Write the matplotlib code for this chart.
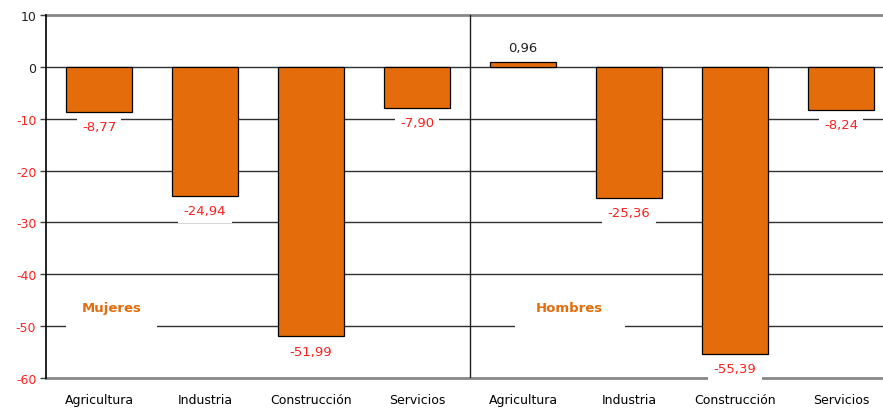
import matplotlib.pyplot as plt
from matplotlib.patches import Rectangle

categories = ['Agricultura', 'Industria', 'Construcción', 'Servicios',
              'Agricultura', 'Industria', 'Construcción', 'Servicios']
values = [-8.77, -24.94, -51.99, -7.90, 0.96, -25.36, -55.39, -8.24]
groups = ['Mujeres', 'Hombres']
group_x = [0.12, 4.44]
group_w = [0.86, 1.04]
yticks = [10, 0, -10, -20, -30, -40, -50, -60]

orange = '#E46C0A'
plt.rcParams['font.family'] = ['DejaVu Sans']

fig = plt.figure(figsize=(8.83, 4.10), dpi=100)
ax = fig.add_axes([46 / 883, 31 / 410, 1 - 46 / 883, 363 / 410])

x = list(range(len(categories)))
ax.bar(x, values, width=0.62, color=orange, edgecolor='black', linewidth=0.9, zorder=3)

ax.set_ylim(-60, 10)
ax.set_xlim(-0.5, 7.396)
ax.set_yticks(yticks)
ax.set_yticklabels([str(t) for t in yticks], fontsize=9)
for lbl, t in zip(ax.get_yticklabels(), yticks):
    lbl.set_color('#FF2020' if t < 0 else '#202020')
ax.set_xticks(x)
ax.set_xticklabels(categories, fontsize=9)
ax.tick_params(axis='x', length=0, pad=11)
ax.tick_params(axis='y', length=4, width=1, color='#404040', pad=3)

for t in yticks:
    edge = t in (10, -60)
    ax.axhline(t, color='#888888' if edge else '#303030', linewidth=2 if edge else 1,
               zorder=1, clip_on=False)

for s in ['top', 'right', 'bottom']:
    ax.spines[s].set_visible(False)
ax.spines['left'].set_linewidth(1.2)
ax.spines['left'].set_zorder(4)

# separator between the two groups
ax.axvline(3.5, color='#202020', linewidth=1, zorder=2)

for xi, v in zip(x, values):
    txt = f'{v:.2f}'.replace('.', ',')
    if v < 0:
        ax.annotate(txt, (xi, v), xytext=(0, -10.5), textcoords='offset points',
                    ha='center', va='center', color='#FF2020', fontsize=9.5, zorder=5,
                    bbox=dict(boxstyle='square,pad=0.4', fc='white', ec='none'))
    else:
        ax.annotate(txt, (xi, v), xytext=(0, 10), textcoords='offset points',
                    ha='center', va='center', color='#202020', fontsize=9.5, zorder=5)

# group labels with white boxes
for gx, gw, name in zip(group_x, group_w, groups):
    ax.add_patch(Rectangle((gx - gw / 2, -52.8), gw, 9.5, facecolor='white',
                           edgecolor='none', zorder=2))
    ax.text(gx, -46.5, name, ha='center', va='center', color=orange,
            fontsize=9.5, fontweight='bold', zorder=5)

fig.savefig('out.png', dpi=100)
